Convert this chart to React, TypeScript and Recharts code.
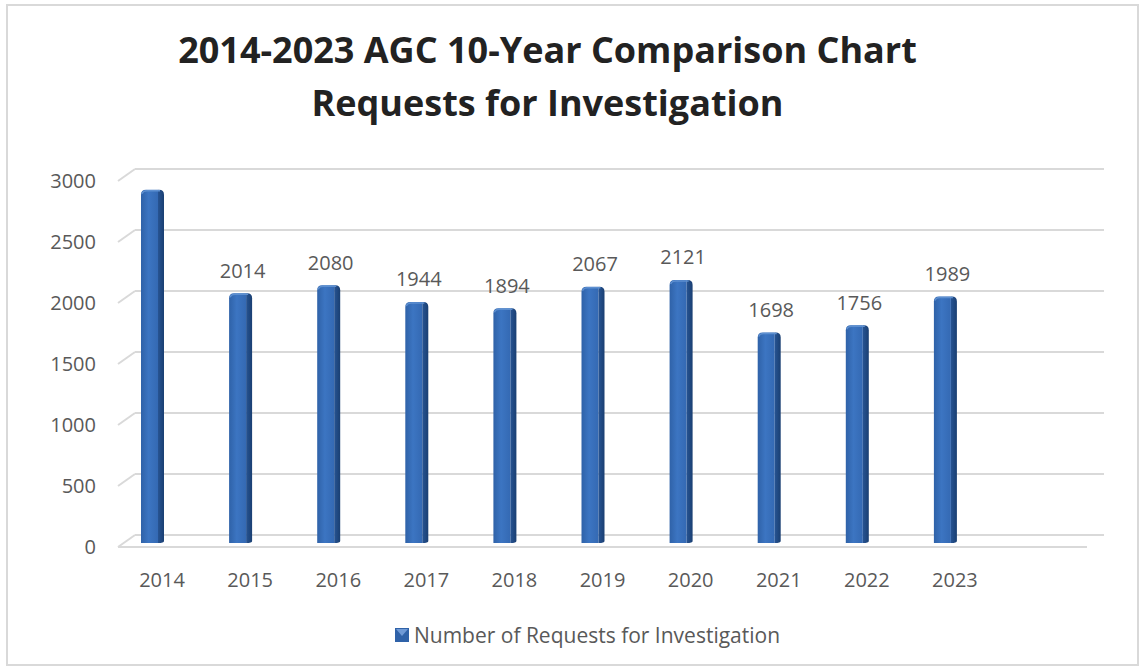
import React from 'react';
import { Bar, BarChart, CartesianGrid, LabelList, XAxis, YAxis } from 'recharts';

const years = ['2014', '2015', '2016', '2017', '2018', '2019', '2020', '2021', '2022', '2023'];
const requests = [2850, 2014, 2080, 1944, 1894, 2067, 2121, 1698, 1756, 1989];
const yTicks = [0, 500, 1000, 1500, 2000, 2500, 3000];

const seriesName = 'Number of Requests for Investigation';
const data = years.map((year, i) => ({ year, requests: requests[i] }));

const font = '"Open Sans", "Liberation Sans", sans-serif';
const gray = '#595959';
const grid = '#d9d9d9';

// bars stand mid-depth in the 3D box: slightly taller and a few px up from the front axis
const DEPTH_LIFT = 4;
const DEPTH_SCALE = 1.016;
const toDepth = (y: number, height: number) => {
  const bottom = y + height - DEPTH_LIFT;
  const h = height * DEPTH_SCALE;
  return { top: bottom - h, bottom };
};

// back wall gridline plus the little diagonal on the side wall
const GridLine = (props: any) => {
  const { x1, y1, x2, y2, index } = props;
  const dx = 17;
  const dy = 12;
  return (
    <g key={`g-${index}`}>
      <line x1={x1} y1={y1} x2={x1 + dx} y2={y1 - dy} stroke={grid} strokeWidth={2} />
      <line x1={x1 + dx} y1={y1 - dy} x2={x2 + dx} y2={y2 - dy} stroke={grid} strokeWidth={2} />
      {y1 > 540 && <line x1={x1} y1={y1} x2={x2} y2={y2} stroke={grid} strokeWidth={2} />}
    </g>
  );
};

const Bar3D = (props: any) => {
  const { x, y, width, height } = props;
  if (height <= 0) return null;
  const bx = x - 10;
  const side = 6;
  const r = 5;
  const { top, bottom } = toDepth(y, height);
  return (
    <g>
      <path
        d={`M${bx},${bottom} L${bx},${top + r} Q${bx},${top} ${bx + r},${top}
            L${bx + width - side},${top} L${bx + width - side},${bottom} Z`}
        fill="url(#faceGrad)"
      />
      <path
        d={`M${bx + width - side},${top} L${bx + width - r},${top} Q${bx + width},${top} ${bx + width},${top + r}
            L${bx + width},${bottom - 2} Q${bx + width},${bottom} ${bx + width - side},${bottom} Z`}
        fill="url(#sideGrad)"
      />
      <path
        d={`M${bx + 1},${top + 4} Q${bx + 2},${top + 1} ${bx + r + 1},${top + 1}
            L${bx + width - 4},${top + 1}`}
        stroke="#5d8fd0"
        strokeWidth={1.5}
        fill="none"
      />
    </g>
  );
};

const renderLabel = (props: any) => {
  const { x, y, width, height, value, index } = props;
  if (index === 0) return null;
  const { top } = toDepth(y, height);
  return (
    <text
      x={x + width / 2 - 8}
      y={top - 21}
      textAnchor="middle"
      dominantBaseline="middle"
      fill={gray}
      fontSize={20}
      fontFamily={font}
    >
      {value}
    </text>
  );
};

export default function App() {
  return (
    <div
      style={{
        position: 'absolute',
        left: 0,
        top: 0,
        width: 1145,
        height: 671,
        background: '#fff',
      }}
    >
      <div
        style={{
          position: 'absolute',
          left: 6,
          top: 4,
          width: 1133,
          height: 662,
          border: '2px solid #d9d9d9',
          boxSizing: 'border-box',
        }}
      />
      <div
        style={{
          position: 'absolute',
          left: 0,
          top: 23,
          width: 1095,
          textAlign: 'center',
          fontFamily: font,
          fontWeight: 700,
          fontSize: 36,
          lineHeight: '53px',
          color: '#222',
        }}
      >
        2014-2023 AGC 10-Year Comparison Chart
        <br />
        Requests for Investigation
      </div>
      <BarChart
        width={1145}
        height={671}
        data={data}
        margin={{ top: 181, right: 58, bottom: 94, left: 0 }}
        style={{ position: 'absolute', left: 0, top: 0 }}
      >
        <defs>
          <linearGradient id="faceGrad" x1="0" y1="0" x2="1" y2="0">
            <stop offset="0%" stopColor="#2f62a8" />
            <stop offset="45%" stopColor="#3c75c2" />
            <stop offset="100%" stopColor="#3469b3" />
          </linearGradient>
          <linearGradient id="sideGrad" x1="0" y1="0" x2="1" y2="0">
            <stop offset="0%" stopColor="#275493" />
            <stop offset="100%" stopColor="#1a3f72" />
          </linearGradient>
        </defs>
        <CartesianGrid vertical={false} horizontal={GridLine} />
        <XAxis
          dataKey="year"
          axisLine={false}
          tickLine={false}
          tickMargin={20}
          padding={{ left: 0, right: 88 }}
          tick={{ fill: gray, fontSize: 20, fontFamily: font }}
        />
        <YAxis
          width={118}
          domain={[0, 3000]}
          ticks={yTicks}
          axisLine={false}
          tickLine={false}
          tickMargin={16}
          tick={{ fill: gray, fontSize: 20, fontFamily: font }}
        />
        <Bar dataKey="requests" name={seriesName} barSize={23} shape={Bar3D} isAnimationActive={false}>
          <LabelList dataKey="requests" content={renderLabel} />
        </Bar>
      </BarChart>
      <div
        style={{
          position: 'absolute',
          left: 0,
          top: 621,
          width: 1175,
          display: 'flex',
          justifyContent: 'center',
          alignItems: 'center',
          fontFamily: font,
          fontSize: 21,
          color: gray,
        }}
      >
        <svg width={15} height={14} style={{ marginRight: 4 }}>
          <rect x={0} y={0} width={14} height={14} fill="#2f62a8" />
          <path d="M1,1 L13,1 L7,8 Z" fill="#6f9ad6" />
        </svg>
        <span>{seriesName}</span>
      </div>
    </div>
  );
}
